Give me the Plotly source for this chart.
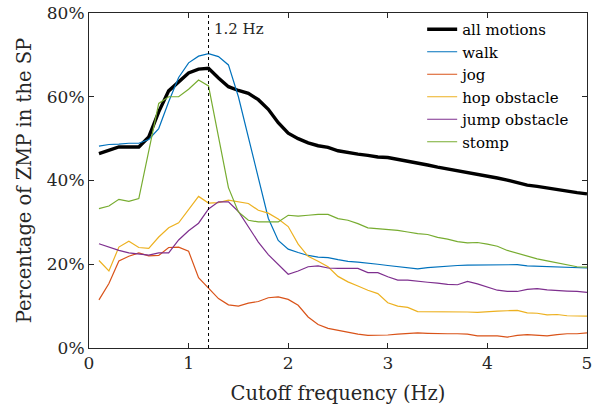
import plotly.graph_objects as go

freq = [round(0.1 * i, 1) for i in range(1, 51)]

all_motions = [46.4, 47.1, 48.0, 48.0, 48.0, 50.4, 56.4, 61.4, 63.5, 65.7,
               66.6, 66.8, 64.5, 62.4, 61.5, 60.8, 59.3, 57.0, 53.8, 51.3,
               50.0, 49.0, 48.3, 47.9, 47.1, 46.6, 46.3, 46.0, 45.6, 45.5,
               45.1, 44.7, 44.2, 43.7, 43.2, 42.8, 42.4, 41.9, 41.5, 41.0,
               40.6, 40.1, 39.5, 38.9, 38.6, 38.2, 37.7, 37.3, 37.1, 36.8]
walk = [48.2, 48.6, 48.7, 48.9, 48.9, 49.8, 52.4, 58.8, 64.6, 68.1,
        69.7, 70.3, 69.6, 67.6, 60.0, 50.5, 41.0, 31.0, 25.7, 23.6,
        22.8, 22.1, 21.7, 21.6, 21.1, 20.7, 20.5, 20.3, 20.0, 19.7,
        19.4, 19.2, 18.9, 19.2, 19.4, 19.5, 19.7, 19.8, 19.8, 19.8,
        19.8, 19.8, 19.9, 19.6, 19.5, 19.5, 19.4, 19.3, 19.2, 19.1]
jog = [11.5, 15.4, 20.8, 21.9, 22.7, 22.0, 22.1, 24.0, 24.1, 23.1,
       16.8, 14.4, 11.8, 10.3, 10.0, 10.7, 11.1, 12.0, 12.2, 11.6,
       10.2, 7.4, 5.6, 4.7, 4.2, 3.7, 3.3, 3.0, 3.0, 3.1,
       3.3, 3.5, 3.6, 3.5, 3.4, 3.4, 3.4, 3.3, 2.9, 2.9,
       2.9, 2.6, 3.0, 3.2, 3.1, 2.9, 3.2, 3.4, 3.4, 3.6]
hop_obstacle = [20.9, 18.4, 24.1, 25.5, 24.0, 23.8, 26.5, 28.7, 29.9, 33.0,
                36.2, 34.6, 34.7, 35.3, 34.9, 34.5, 32.9, 32.2, 30.8, 29.0,
                24.8, 21.9, 20.7, 19.4, 17.1, 15.8, 14.8, 13.8, 13.0, 10.8,
                10.0, 9.7, 8.7, 8.7, 8.7, 8.7, 8.7, 8.6, 8.5, 8.7,
                8.8, 8.9, 9.0, 8.4, 8.3, 7.9, 8.0, 7.7, 7.6, 7.6]
jump_obstacle = [24.9, 24.1, 23.3, 22.7, 22.4, 22.2, 22.7, 22.7, 25.8, 28.0,
                 29.8, 33.2, 34.9, 34.9, 32.6, 28.9, 25.3, 22.3, 19.9, 17.6,
                 18.4, 19.4, 19.6, 19.1, 19.0, 19.0, 19.0, 18.0, 18.0, 17.0,
                 16.2, 16.2, 15.9, 15.7, 15.5, 15.2, 15.1, 15.9, 15.3, 14.6,
                 13.8, 13.5, 13.5, 14.0, 14.2, 13.9, 13.7, 13.6, 13.5, 13.3]
stomp = [33.3, 33.9, 35.5, 35.0, 35.7, 47.0, 58.4, 60.0, 60.0, 61.8,
         64.0, 62.6, 50.4, 38.3, 32.5, 30.5, 30.1, 30.1, 30.1, 31.7,
         31.5, 31.7, 31.9, 31.9, 30.9, 30.5, 29.7, 28.7, 28.5, 28.4,
         28.1, 27.7, 27.3, 27.1, 26.4, 26.0, 25.4, 25.1, 25.2, 24.8,
         24.3, 23.3, 22.6, 21.9, 21.3, 20.8, 20.3, 19.8, 19.4, 19.3]

cutoff = 1.2
x_ticks = [0, 1, 2, 3, 4, 5]
y_ticks = [0, 20, 40, 60, 80]
y_ticktext = [f"{v}%" for v in y_ticks]

series = [
    ("all motions", all_motions, "#000000", 3.4),
    ("walk", walk, "#0072BD", 1.2),
    ("jog", jog, "#D95319", 1.2),
    ("hop obstacle", hop_obstacle, "#EDB120", 1.2),
    ("jump obstacle", jump_obstacle, "#7E2F8E", 1.2),
    ("stomp", stomp, "#77AC30", 1.2),
]

SERIF = "DejaVu Serif"
TXT = "#262626"

fig = go.Figure()
for name, vals, color, w in series:
    fig.add_trace(go.Scatter(x=freq, y=vals, mode="lines", name=name,
                             line=dict(color=color, width=w)))

fig.add_shape(type="line", x0=cutoff, x1=cutoff, y0=0, y1=1, xref="x", yref="paper",
              line=dict(color="black", width=1, dash="dot"))
fig.add_annotation(x=cutoff, y=1, xref="x", yref="paper", text="1.2 Hz",
                   showarrow=False, xanchor="left", yanchor="top", xshift=3, yshift=-5,
                   font=dict(family=SERIF, size=15, color=TXT))

axis_common = dict(showgrid=False, zeroline=False, showline=True, mirror="ticks",
                   linecolor=TXT, linewidth=1, ticks="inside", ticklen=5,
                   tickcolor=TXT, automargin=False, ticklabeloverflow="allow",
                   tickfont=dict(family=SERIF, size=17, color=TXT))

fig.update_layout(
    width=598, height=410,
    margin=dict(l=89, r=11, t=13, b=62, autoexpand=False),
    paper_bgcolor="white", plot_bgcolor="white",
    font=dict(family=SERIF, color=TXT),
    xaxis=dict(range=[0, 5.0001], tickvals=x_ticks,
               title=dict(text="Cutoff frequency (Hz)", standoff=13,
                          font=dict(family=SERIF, size=19.5, color=TXT)),
               **axis_common),
    yaxis=dict(range=[0, 80], tickvals=y_ticks, ticktext=y_ticktext,
               title=dict(text="Percentage of ZMP in the SP", standoff=9,
                          font=dict(family=SERIF, size=19.5, color=TXT)),
               **axis_common),
    legend=dict(x=0.669, y=1.0, xanchor="left", yanchor="top",
                bgcolor="rgba(255,255,255,0)", borderwidth=0,
                font=dict(family=SERIF, size=15, color="#000000"),
                tracegroupgap=0, itemwidth=30),
    showlegend=True,
)

fig.write_html("out.html", config={"displayModeBar": False},
               post_script="document.body.style.margin='0px';")
